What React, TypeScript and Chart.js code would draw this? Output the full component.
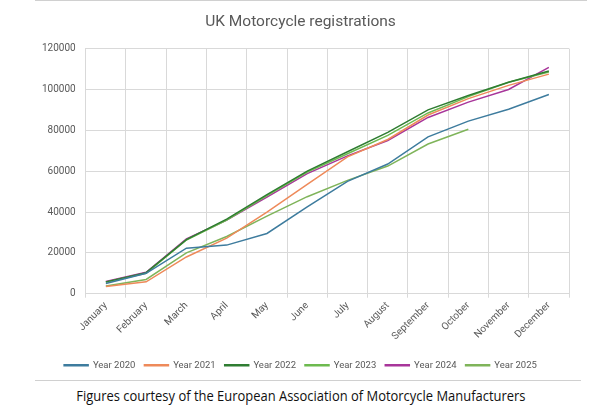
import React, { useEffect, useRef } from 'react';
import { Chart, registerables } from 'chart.js';

Chart.register(...registerables);

const months = [
  'January', 'February', 'March', 'April', 'May', 'June',
  'July', 'August', 'September', 'October', 'November', 'December',
];

const year2020 = [5000, 10000, 22300, 23800, 29500, 42500, 55000, 63500, 76800, 84500, 90300, 97500];
const year2021 = [3500, 5800, 18000, 27200, 40000, 53500, 67000, 75500, 87500, 95500, 102000, 107500];
const year2022 = [5800, 10300, 26500, 36500, 48500, 60000, 69500, 79000, 90000, 97000, 103500, 109000];
const year2023 = [5600, 10000, 26300, 36000, 48000, 59500, 68500, 77500, 88500, 96500, 103500, 108500];
const year2024 = [6000, 10500, 26800, 36000, 47300, 58800, 67500, 75000, 86300, 93800, 100000, 110800];
const year2025 = [3800, 7000, 20000, 28000, 38000, 47500, 55500, 62500, 73300, 80500, null, null];

const seriesNames = ['Year 2020', 'Year 2021', 'Year 2022', 'Year 2023', 'Year 2024', 'Year 2025'];
const seriesColors = ['#3E7C9E', '#EE8A5A', '#2F7D32', '#6DBA4F', '#A8359A', '#7FB45A'];

const grey = '#595959';
const gridGrey = '#d9d9d9';

// nudge the legend a few pixels lower without moving the plot area
const legendShift = {
  id: 'legendShift',
  afterLayout(chart: any) {
    if (chart.legend) {
      chart.legend.top += 7;
      chart.legend.bottom += 7;
    }
  },
};

const App: React.FC = () => {
  const chartRef = useRef<HTMLCanvasElement>(null);
  const chartInstance = useRef<Chart | null>(null);

  useEffect(() => {
    if (!chartRef.current) return;
    if (chartInstance.current) chartInstance.current.destroy();

    const allSeries = [year2020, year2021, year2022, year2023, year2024, year2025];

    chartInstance.current = new Chart(chartRef.current, {
      type: 'line',
      data: {
        labels: months,
        datasets: allSeries.map((values, i) => ({
          label: seriesNames[i],
          data: values,
          borderColor: seriesColors[i],
          backgroundColor: seriesColors[i],
          borderWidth: 1.5,
          pointRadius: 0,
          tension: 0,
          spanGaps: false,
        })),
      },
      plugins: [legendShift],
      options: {
        animation: false,
        responsive: true,
        maintainAspectRatio: false,
        layout: { padding: { left: 32, right: 46, top: 0, bottom: 5 } },
        font: { family: 'Roboto' },
        plugins: {
          title: {
            display: true,
            text: 'UK Motorcycle registrations',
            color: grey,
            font: { size: 15.5, weight: 'normal', family: 'Roboto' },
            padding: { top: 13, bottom: 17 },
          },
          legend: {
            position: 'bottom',
            labels: {
              color: grey,
              boxWidth: 24,
              boxHeight: 1,
              padding: 9,
              font: { size: 9.5, family: 'Roboto' },
            },
          },
          tooltip: { enabled: false },
        },
        scales: {
          x: {
            offset: true,
            grid: { color: gridGrey, offset: true, tickLength: 4, drawTicks: true },
            border: { color: gridGrey },
            ticks: {
              color: grey,
              autoSkip: false,
              maxRotation: 45,
              minRotation: 45,
              font: { size: 10, family: 'Roboto' },
              padding: 2,
            },
          },
          y: {
            min: 0,
            max: 120000,
            grid: { color: gridGrey, drawTicks: false },
            border: { color: gridGrey },
            ticks: {
              stepSize: 20000,
              color: grey,
              padding: 10,
              font: { size: 10, family: 'Roboto' },
              callback: (value) => String(value),
            },
          },
        },
      },
    });

    return () => {
      if (chartInstance.current) {
        chartInstance.current.destroy();
        chartInstance.current = null;
      }
    };
  }, []);

  return (
    <div style={{ position: 'absolute', left: 0, top: 0, width: 615, height: 410, background: '#fff', overflow: 'hidden' }}>
      <div style={{ position: 'absolute', left: 35, top: 0, width: 552, height: 1, background: '#d0d0d0' }} />
      <div style={{ position: 'absolute', left: 0, top: 0, width: 615, height: 378 }}>
        <canvas ref={chartRef} />
      </div>
      <div style={{ position: 'absolute', left: 35, top: 380, width: 546, height: 1, background: '#d0d0d0' }} />
      <div
        style={{
          position: 'absolute',
          left: -7,
          top: 387,
          width: 615,
          textAlign: 'center',
          fontFamily: '"Open Sans", sans-serif',
          fontSize: 14,
          lineHeight: '18px',
          color: '#111',
        }}
      >
        <span style={{ display: 'inline-block', transform: 'scaleX(0.925)' }}>
          Figures courtesy of the European Association of Motorcycle Manufacturers
        </span>
      </div>
    </div>
  );
};

export default App;
